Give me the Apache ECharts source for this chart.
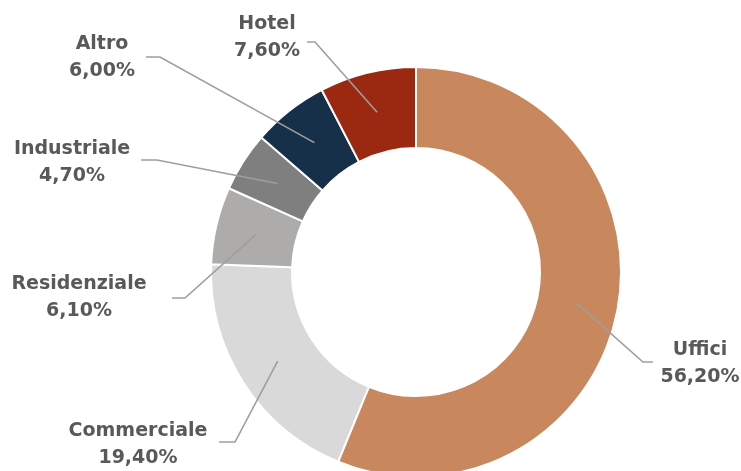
<!DOCTYPE html>
<html>
<head>
<meta charset="utf-8">
<title>Ripartizione per destinazione d'uso</title>
<script src="https://cdn.jsdelivr.net/npm/echarts@6/dist/echarts.min.js"></script>
<style>
  html, body { margin: 0; padding: 0; background: #ffffff; }
  #chart { width: 741px; height: 471px; }
</style>
</head>
<body>
<div id="chart"></div>
<script>
// Categories and shares (%), in clockwise order starting at 12 o'clock
const categories = ['Uffici', 'Commerciale', 'Residenziale', 'Industriale', 'Altro', 'Hotel'];
const shares = [56.2, 19.4, 6.1, 4.7, 6.0, 7.6];

// Slice colours
const sliceColors = ['#C8875C', '#D9D9D9', '#ADACAA', '#7F7F7F', '#16304A', '#9B2912'];

// Ring geometry
const CX = 416, CY = 272, R_IN = 124, R_OUT = 205;
const R_MID = (R_IN + R_OUT) / 2;

// Label placement: text centre, elbow of the leader line and its end
const labelCenters = [[700, 364], [138, 445], [79, 298], [72, 163], [102, 58], [267, 38]];
const leaderElbows = [[643, 362], [235, 442], [185, 298], [157, 160], [160, 57], [315, 42]];
const leaderEnds   = [[653, 362], [219, 442], [172, 298], [141, 160], [146, 57], [307, 42]];

// Mid angle of each slice (radians, clockwise from top)
const total = shares.reduce((a, b) => a + b, 0);
const midAngles = [];
let acc = 0;
shares.forEach(v => {
  midAngles.push((acc + v / 2) / total * Math.PI * 2);
  acc += v;
});

const fmt = v => v.toFixed(2).replace('.', ',') + '%';

const chart = echarts.init(document.getElementById('chart'), null, { renderer: 'canvas' });

const ringBase = {
  type: 'pie',
  center: [CX, CY],
  radius: [R_IN, R_OUT],
  startAngle: 90,
  clockwise: true,
  avoidLabelOverlap: false,
  emphasis: { disabled: true },
  silent: true
};

chart.setOption({
  backgroundColor: '#ffffff',
  animation: false,
  series: [
    // Coloured ring
    Object.assign({}, ringBase, {
      z: 2,
      data: categories.map((name, i) => ({
        name: name,
        value: shares[i],
        itemStyle: { color: sliceColors[i] }
      })),
      itemStyle: { borderColor: '#ffffff', borderWidth: 2 },
      label: { show: false },
      labelLine: { show: false }
    }),
    // Transparent ring on top carrying the labels, so leader lines run over the slices
    Object.assign({}, ringBase, {
      z: 5,
      data: categories.map((name, i) => ({ name: name, value: shares[i] })),
      itemStyle: { color: 'rgba(0,0,0,0)', borderWidth: 0 },
      label: {
        show: true,
        position: 'outside',
        formatter: p => p.name + '\n' + fmt(p.value),
        fontFamily: 'DejaVu Sans',
        fontWeight: 'bold',
        fontSize: 19,
        lineHeight: 27,
        color: '#595959',
        align: 'center'
      },
      labelLine: {
        show: true,
        showAbove: true,
        lineStyle: { color: '#9E9E9E', width: 1.6 }
      },
      labelLayout: function (params) {
        const i = params.dataIndex;
        const a = midAngles[i];
        const start = [CX + R_MID * Math.sin(a), CY - R_MID * Math.cos(a)];
        return {
          x: labelCenters[i][0],
          y: labelCenters[i][1],
          align: 'center',
          verticalAlign: 'middle',
          labelLinePoints: [start, leaderElbows[i], leaderEnds[i]]
        };
      }
    })
  ]
});
</script>
</body>
</html>
